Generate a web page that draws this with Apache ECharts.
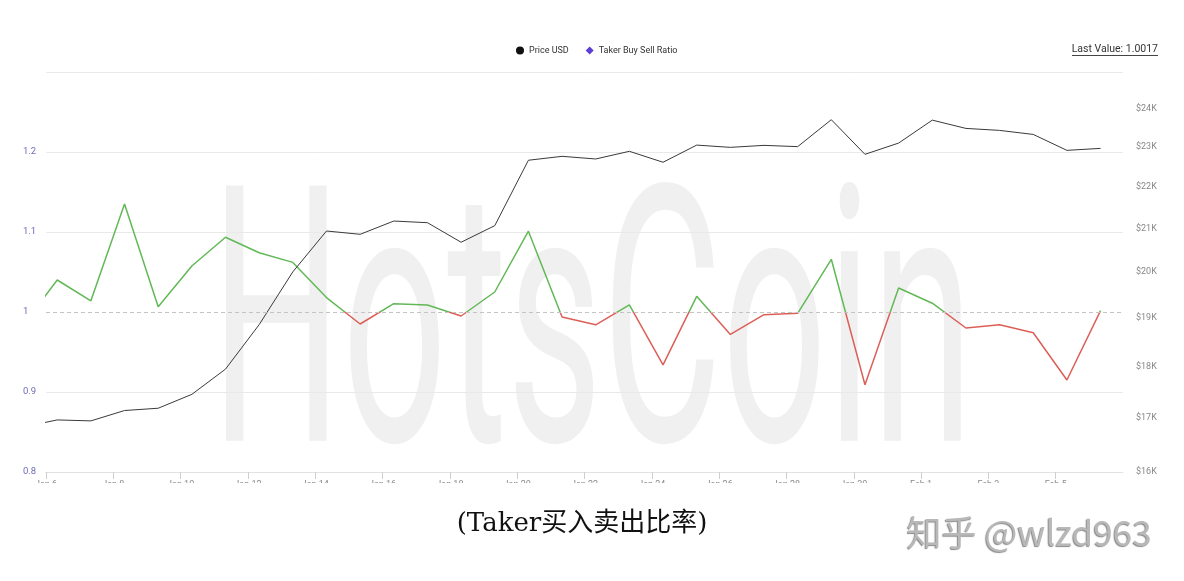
<!DOCTYPE html>
<html>
<head>
<meta charset="utf-8">
<script src="https://cdn.jsdelivr.net/npm/echarts@6/dist/echarts.min.js"></script>
<style>
  html, body { margin: 0; padding: 0; background: #fff; }
  #chart { width: 1184px; height: 581px; }
</style>
</head>
<body>
<div id="chart"></div>
<script>
// ---- data ----
const dates = [
  '2023-01-05','2023-01-06','2023-01-07','2023-01-08','2023-01-09','2023-01-10','2023-01-11',
  '2023-01-12','2023-01-13','2023-01-14','2023-01-15','2023-01-16','2023-01-17','2023-01-18',
  '2023-01-19','2023-01-20','2023-01-21','2023-01-22','2023-01-23','2023-01-24','2023-01-25',
  '2023-01-26','2023-01-27','2023-01-28','2023-01-29','2023-01-30','2023-01-31','2023-02-01',
  '2023-02-02','2023-02-03','2023-02-04','2023-02-05','2023-02-06'
];
const priceUSD = [
  16826, 16957, 16939, 17136, 17180, 17448, 17946, 18859, 20003, 20936, 20859,
  21170, 21131, 20675, 21061, 22656, 22755, 22688, 22883, 22605, 23042, 22984,
  23035, 23002, 23704, 22806, 23094, 23693, 23475, 23423, 23318, 22907, 22958
];
const takerBuySellRatio = [
  0.984, 1.040, 1.014, 1.135, 1.0066, 1.0575, 1.0934, 1.074, 1.062, 1.018, 0.985,
  1.0104, 1.0088, 0.995, 1.025, 1.101, 0.9938, 0.984, 1.0088, 0.934, 1.0196, 0.972,
  0.9966, 0.9983, 1.0659, 0.909, 1.030, 1.011, 0.980, 0.984, 0.974, 0.915, 1.0017
];
const xTickDays = [0, 2, 4, 6, 8, 10, 12, 14, 16, 18, 20, 22, 24, 26, 28, 30];
const priceTicks = [16000, 17000, 18000, 19000, 20000, 21000, 22000, 23000, 24000];
const lastValueText = 'Last Value: 1.0017';
const captionText = '(Taker买入卖出比率)';
const watermarkText = 'HotsCoin';
const creditText = '知乎 @wlzd963';

// ---- helpers ----
const DAY = 86400000;
const axisStart = Date.parse('2023-01-06T00:00:00Z');
const months = ['Jan','Feb','Mar','Apr','May','Jun','Jul','Aug','Sep','Oct','Nov','Dec'];
const xOf = d => (Date.parse(d + 'T08:00:00Z') - axisStart) / DAY;
const priceData = dates.map((d, i) => [xOf(d), priceUSD[i]]);
const ratioData = dates.map((d, i) => [xOf(d), takerBuySellRatio[i]]);

const chart = echarts.init(document.getElementById('chart'), null, { renderer: 'canvas' });
const FONT = 'Roboto, "Noto Sans", sans-serif';

chart.setOption({
  backgroundColor: '#fff',
  animation: false,
  textStyle: { fontFamily: FONT },
  legend: {
    left: 511, top: 41,
    itemWidth: 8, itemHeight: 8, itemGap: 17,
    textStyle: { fontSize: 9, color: '#333', fontFamily: FONT },
    data: [
      { name: 'Price USD', icon: 'circle', itemStyle: { color: '#111' } },
      { name: 'Taker Buy Sell Ratio', icon: 'diamond', itemStyle: { color: '#5b3fd6' } }
    ]
  },
  grid: { left: 46, right: 61, top: 72, height: 400, containLabel: false },
  xAxis: {
    type: 'value', min: 0, max: 32,
    axisLine: { show: true, lineStyle: { color: '#e2e2e2', width: 1 } },
    axisTick: { show: true, length: 7, lineStyle: { color: '#cfcfcf' }, customValues: xTickDays },
    axisLabel: {
      customValues: xTickDays, margin: 8, fontSize: 9, color: '#8a8a8a',
      formatter: v => { const dt = new Date(axisStart + v * DAY); return months[dt.getUTCMonth()] + ' ' + dt.getUTCDate(); }
    },
    splitLine: { show: false }
  },
  yAxis: [
    {
      type: 'value', min: 0.8, max: 1.3, interval: 0.1, position: 'left',
      axisLine: { show: false }, axisTick: { show: false },
      axisLabel: { align: 'left', margin: 23, fontSize: 9.5, color: '#6d6db8', showMaxLabel: false,
        formatter: v => String(+v.toFixed(2)) },
      splitLine: { show: true, lineStyle: { color: ['#e9e9e9', '#e9e9e9', 'rgba(0,0,0,0)', '#e9e9e9', '#e9e9e9', '#e9e9e9'], width: 1 } }
    },
    {
      type: 'log', min: 16000, max: 25000, position: 'right',
      axisLine: { show: false }, axisTick: { show: false }, splitLine: { show: false },
      axisLabel: { customValues: priceTicks, align: 'left', margin: 13, fontSize: 9, color: '#888',
        formatter: v => '$' + Math.round(v / 1000) + 'K' }
    }
  ],
  visualMap: {
    type: 'piecewise', show: false, seriesIndex: 1, dimension: 1,
    pieces: [ { gte: 0, lt: 1, color: '#dc5f57' }, { gte: 1, lte: 5, color: '#62b856' } ]
  },
  series: [
    {
      name: 'Price USD', type: 'line', yAxisIndex: 1, data: priceData,
      showSymbol: false, symbol: 'none', color: '#111',
      lineStyle: { color: '#3a3a3a', width: 1 }, z: 3
    },
    {
      name: 'Taker Buy Sell Ratio', type: 'line', yAxisIndex: 0, data: ratioData,
      showSymbol: false, symbol: 'none', color: '#5b3fd6',
      lineStyle: { width: 1.5 }, z: 2,
      markLine: {
        silent: true, symbol: 'none', label: { show: false },
        lineStyle: { color: '#c4c4c4', type: [4, 3], width: 1 },
        data: [ { yAxis: 1 } ]
      }
    }
  ],
  graphic: [
    {
      type: 'text', x: 592, y: 351, z: -10, silent: true, scaleY: 1.95,
      style: { text: watermarkText, font: '184px Roboto, "Noto Sans", sans-serif', fill: '#f0f0f0',
        textAlign: 'center', textVerticalAlign: 'middle' }
    },
    {
      type: 'text', x: 1158, y: 49, z: 50,
      style: { text: lastValueText, font: '10.5px Roboto, "Noto Sans", sans-serif', fill: '#333',
        textAlign: 'right', textVerticalAlign: 'middle' }
    },
    {
      type: 'line', z: 50, shape: { x1: 1072, y1: 55.5, x2: 1158, y2: 55.5 },
      style: { stroke: '#444', lineWidth: 1 }
    },
    {
      type: 'rect', z: 100, shape: { x: 0, y: 483, width: 1184, height: 98 },
      style: { fill: '#fff' }
    },
    {
      type: 'text', x: 582, y: 524, z: 110,
      style: { text: captionText, font: '26px "DejaVu Serif", "Noto Sans CJK SC", serif', fill: '#111',
        textAlign: 'center', textVerticalAlign: 'middle' }
    },
    {
      type: 'text', x: 1029, y: 533, z: 110,
      style: { text: creditText, font: '35px "Noto Sans CJK SC", "Noto Sans", sans-serif', fill: '#b8b8b8',
        textAlign: 'center', textVerticalAlign: 'middle',
        textShadowColor: 'rgba(60,60,60,0.6)', textShadowOffsetX: -1, textShadowOffsetY: 1, textShadowBlur: 1 }
    }
  ]
});
</script>
</body>
</html>
